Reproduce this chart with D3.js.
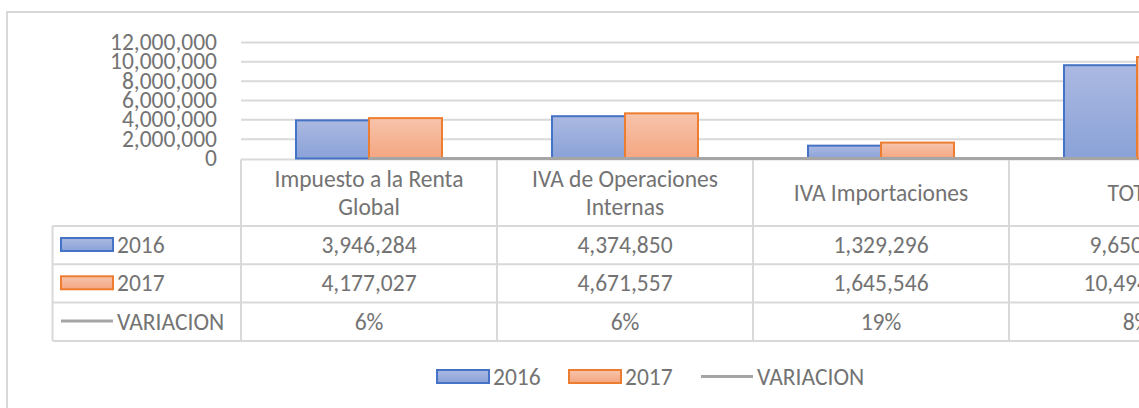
<!DOCTYPE html>
<html>
<head>
<meta charset="utf-8">
<script src="https://cdn.jsdelivr.net/npm/d3@7"></script>
<style>
  body { margin: 0; background: #fff; }
  svg { display: block; font-family: Calibri, Carlito, "Open Sans", sans-serif; }
</style>
</head>
<body>
<script>
// data
var categories = ["Impuesto a la Renta Global", "IVA de Operaciones Internas", "IVA Importaciones", "TOTAL"];
var catLines = [["Impuesto a la Renta", "Global"], ["IVA de Operaciones", "Internas"], ["IVA Importaciones"], ["TOTAL"]];
var values2016 = [3946284, 4374850, 1329296, 9650430];
var values2017 = [4177027, 4671557, 1645546, 10494130];
var variacion = [0.06, 0.06, 0.19, 0.08];
var variacionLabels = ["6%", "6%", "19%", "8%"];
var yTicks = [0, 2000000, 4000000, 6000000, 8000000, 10000000, 12000000];
var seriesNames = ["2016", "2017", "VARIACION"];

var W = 1139, H = 408;
var textColor = "#737373", gridColor = "#d9d9d9";
var fs = 23.5;

var svg = d3.select("body").append("svg")
    .attr("width", W)
    .attr("height", H);

var defs = svg.append("defs");
function grad(id, top, bottom) {
    var g = defs.append("linearGradient").attr("id", id)
        .attr("x1", 0).attr("y1", 0).attr("x2", 0).attr("y2", 1);
    g.append("stop").attr("offset", "0%").attr("stop-color", top);
    g.append("stop").attr("offset", "100%").attr("stop-color", bottom);
}
grad("g2016", "#abb9e1", "#8aa2d8");
grad("g2017", "#f7c4ac", "#f4a680");
var fills = { "2016": "url(#g2016)", "2017": "url(#g2017)" };
var strokes = { "2016": "#4472c4", "2017": "#ed7d31" };

// outer chart border (runs past the window on the right and bottom)
svg.append("rect")
    .attr("x", 7).attr("y", 12)
    .attr("width", 1400).attr("height", 600)
    .attr("fill", "none").attr("stroke", gridColor).attr("stroke-width", 2);

var plotLeft = 241, catWidth = 256;
var x = d3.scaleBand()
    .domain(categories)
    .range([plotLeft, plotLeft + catWidth * categories.length]);
// bar group is 146 of the 256 px category -> gap width 150%
var xInner = d3.scaleBand()
    .domain(["2016", "2017"])
    .range([55, 201]);

var y = d3.scaleLinear().domain([0, 12000000]).range([158.5, 42.5]);

// gridlines
svg.append("g").selectAll("line")
    .data(yTicks.filter(function(d) { return d > 0; }))
    .enter().append("line")
    .attr("x1", plotLeft).attr("x2", W + 200)
    .attr("y1", function(d) { return y(d); })
    .attr("y2", function(d) { return y(d); })
    .attr("stroke", gridColor).attr("stroke-width", 2);

// y axis labels
var fmt = d3.format(",");
svg.append("g").selectAll("text")
    .data(yTicks)
    .enter().append("text")
    .attr("x", 217)
    .attr("y", function(d) { return y(d) + 7.5; })
    .attr("text-anchor", "end")
    .attr("font-size", fs)
    .attr("fill", textColor)
    .text(function(d) { return fmt(d); });

// table grid
var tableTop = 159.5, headerBottom = 226, rowH = 38.3, tableLeft = 52.5;
var rowYs = [headerBottom, headerBottom + rowH, headerBottom + 2 * rowH, headerBottom + 3 * rowH];
var grid = svg.append("g").attr("stroke", gridColor).attr("stroke-width", 2).attr("fill", "none");
grid.append("line").attr("x1", plotLeft).attr("x2", W + 200).attr("y1", tableTop).attr("y2", tableTop);
rowYs.forEach(function(ry) {
    grid.append("line").attr("x1", tableLeft).attr("x2", W + 200).attr("y1", ry).attr("y2", ry);
});
grid.append("line").attr("x1", tableLeft).attr("x2", tableLeft).attr("y1", headerBottom).attr("y2", rowYs[3]);
categories.concat(["_end"]).forEach(function(c, i) {
    var vx = plotLeft + catWidth * i;
    grid.append("line").attr("x1", vx).attr("x2", vx).attr("y1", tableTop).attr("y2", rowYs[3]);
});

// bars
var series = [
    { name: "2016", values: values2016 },
    { name: "2017", values: values2017 }
];
series.forEach(function(s) {
    svg.append("g").selectAll("rect")
        .data(s.values)
        .enter().append("rect")
        .attr("x", function(d, i) { return x(categories[i]) + xInner(s.name); })
        .attr("y", function(d) { return y(d); })
        .attr("width", xInner.bandwidth())
        .attr("height", function(d) { return y(0) - y(d); })
        .attr("fill", fills[s.name])
        .attr("stroke", strokes[s.name])
        .attr("stroke-width", 2);
});

// VARIACION line (same axis, so it sits on the baseline)
var line = d3.line()
    .x(function(d, i) { return x(categories[i]) + x.bandwidth() / 2; })
    .y(function(d) { return y(d); });
svg.append("path")
    .datum(variacion)
    .attr("d", line)
    .attr("fill", "none")
    .attr("stroke", "#a5a5a5")
    .attr("stroke-width", 3);

// category labels in the header row
categories.forEach(function(c, i) {
    var lines = catLines[i];
    var cx = x(c) + x.bandwidth() / 2;
    var t = svg.append("text")
        .attr("text-anchor", "middle")
        .attr("font-size", fs)
        .attr("fill", textColor);
    if (lines.length === 2) {
        t.append("tspan").attr("x", cx).attr("y", 187).text(lines[0]);
        t.append("tspan").attr("x", cx).attr("y", 215).text(lines[1]);
    } else {
        t.append("tspan").attr("x", cx).attr("y", 201).text(lines[0]);
    }
});

// data rows
var rows = [
    values2016.map(fmt),
    values2017.map(fmt),
    variacionLabels
];
rows.forEach(function(r, ri) {
    svg.append("g").selectAll("text")
        .data(r)
        .enter().append("text")
        .attr("x", function(d, i) { return x(categories[i]) + x.bandwidth() / 2; })
        .attr("y", rowYs[ri] + rowH / 2 + 8)
        .attr("text-anchor", "middle")
        .attr("font-size", fs)
        .attr("fill", textColor)
        .text(function(d) { return d; });
});

// legend keys
function key(g, name, kx, ky) {
    if (name === "VARIACION") {
        g.append("line").attr("x1", kx).attr("x2", kx + 52)
            .attr("y1", ky + 6.5).attr("y2", ky + 6.5)
            .attr("stroke", "#a5a5a5").attr("stroke-width", 3);
    } else {
        g.append("rect").attr("x", kx).attr("y", ky)
            .attr("width", 52).attr("height", 13)
            .attr("fill", fills[name]).attr("stroke", strokes[name]).attr("stroke-width", 2);
    }
    g.append("text").attr("x", kx + 56).attr("y", ky + 15)
        .attr("font-size", fs).attr("fill", textColor).text(name);
}
var rowKeys = svg.append("g");
seriesNames.forEach(function(n, i) {
    key(rowKeys, n, 61, rowYs[i] + 12);
});

// bottom legend
var legend = svg.append("g");
var legendX = [437, 569, 701];
seriesNames.forEach(function(n, i) {
    key(legend, n, legendX[i], 370);
});
</script>
</body>
</html>
